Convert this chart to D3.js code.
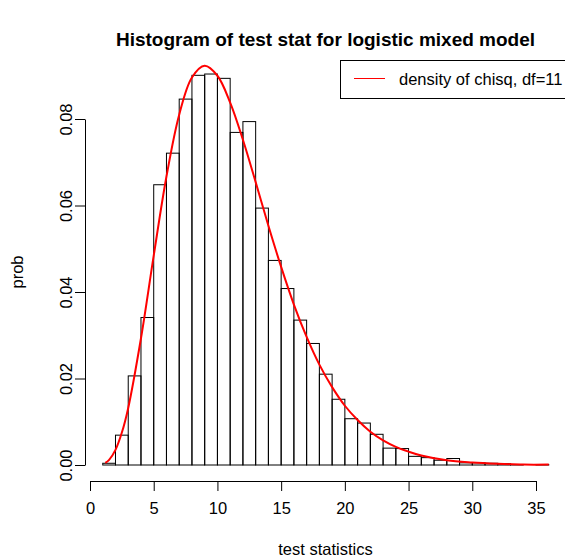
<!DOCTYPE html>
<html>
<head>
<meta charset="utf-8">
<script src="https://cdn.jsdelivr.net/npm/d3@7"></script>
<style>
  body { margin: 0; background: #fff; }
  text { font-family: "Liberation Sans", Arial, Helvetica, sans-serif; }
</style>
</head>
<body>
<div id="chart"></div>
<script>
// histogram breaks (bin edges) and bar densities
const breaks = [1, 2, 3, 4, 5, 6, 7, 8, 9, 10, 11, 12, 13, 14, 15, 16, 17, 18,
    19, 20, 21, 22, 23, 24, 25, 26, 27, 28, 29, 30, 31, 32, 33, 34, 35, 36];
const density = [0.0004, 0.0069, 0.0206, 0.0341, 0.0648, 0.0721, 0.0846, 0.0901,
    0.0904, 0.0894, 0.0769, 0.0794, 0.0594, 0.0473, 0.0408, 0.0335, 0.0281,
    0.0210, 0.0152, 0.0107, 0.0097, 0.0071, 0.0039, 0.0038, 0.0020, 0.0017,
    0.0011, 0.0015, 0.0005, 0.0005, 0.0004, 0.0003, 0.0001, 0.0000, 0.0001];

// red density curve (chisq, df=11)
const curveX = [1.2, 1.5, 2, 2.5, 3, 4, 5, 6, 7, 8, 9, 10, 11, 12, 13, 14, 15,
    16, 17, 18, 19, 20, 21, 22, 23, 24, 25, 26, 28, 30, 32, 34, 36];
const curveY = [0.0005, 0.0012, 0.0035, 0.0075, 0.0132, 0.0293, 0.0484, 0.0667,
    0.0810, 0.0896, 0.0923, 0.0900, 0.0838, 0.0752, 0.0654, 0.0553, 0.0458,
    0.0371, 0.0296, 0.0232, 0.0180, 0.0137, 0.0104, 0.0077, 0.0057, 0.0042,
    0.0031, 0.0022, 0.0011, 0.0006, 0.0003, 0.0001, 0.0001];

const xTicks = [0, 5, 10, 15, 20, 25, 30, 35];
const yTicks = [0, 0.02, 0.04, 0.06, 0.08];

const width = 565;
const height = 560;

const svg = d3.select('#chart')
    .append('svg')
    .attr('width', width)
    .attr('height', height);

const x = d3.scaleLinear().domain([0, 35]).range([90, 536]);
const y = d3.scaleLinear().domain([0, 0.08]).range([465, 119]);

// title
svg.append('text')
    .attr('x', 325.5)
    .attr('y', 46)
    .attr('text-anchor', 'middle')
    .style('font-weight', 'bold')
    .style('font-size', '19px')
    .text('Histogram of test stat for logistic mixed model');

// bars
svg.append('g')
    .selectAll('rect')
    .data(density)
    .join('rect')
    .attr('x', (d, i) => x(breaks[i]))
    .attr('y', d => y(d))
    .attr('width', (d, i) => x(breaks[i + 1]) - x(breaks[i]))
    .attr('height', d => y(0) - y(d))
    .style('fill', 'none')
    .style('stroke', '#000')
    .style('stroke-width', 1);

// density curve
const line = d3.line()
    .x(d => x(d[0]))
    .y(d => y(d[1]))
    .curve(d3.curveCatmullRom);

svg.append('path')
    .datum(curveX.map((v, i) => [v, curveY[i]]))
    .attr('d', line)
    .style('fill', 'none')
    .style('stroke', '#ff0000')
    .style('stroke-width', 2);

// x axis
const xAxis = svg.append('g')
    .attr('transform', 'translate(0,481)')
    .call(d3.axisBottom(x).tickValues(xTicks).tickSize(10).tickSizeOuter(0).tickPadding(11));
xAxis.selectAll('text').style('font-size', '16.5px').attr('fill', '#000');
xAxis.selectAll('line, path').attr('stroke', '#000');

// y axis, labels turned like R's las=0
const yAxis = svg.append('g')
    .attr('transform', 'translate(85,0)')
    .call(d3.axisLeft(y).tickValues(yTicks).tickSize(10).tickSizeOuter(0)
        .tickFormat(d3.format('.2f')));
yAxis.selectAll('text')
    .attr('x', null)
    .attr('dy', null)
    .attr('text-anchor', 'middle')
    .attr('transform', 'translate(-13,0) rotate(-90)')
    .style('font-size', '16.5px')
    .attr('fill', '#000');
yAxis.selectAll('line, path').attr('stroke', '#000');

// axis labels
svg.append('text')
    .attr('x', 325.5)
    .attr('y', 555)
    .attr('text-anchor', 'middle')
    .style('font-size', '16.5px')
    .text('test statistics');

svg.append('text')
    .attr('transform', 'translate(23,272) rotate(-90)')
    .attr('text-anchor', 'middle')
    .style('font-size', '16.5px')
    .text('prob');

// legend
const legend = svg.append('g');
legend.append('rect')
    .attr('x', 340.5)
    .attr('y', 60.5)
    .attr('width', 240)
    .attr('height', 38)
    .style('fill', 'none')
    .style('stroke', '#000');
legend.append('line')
    .attr('x1', 354).attr('x2', 385)
    .attr('y1', 78.5).attr('y2', 78.5)
    .style('stroke', '#ff0000')
    .style('stroke-width', 1);
legend.append('text')
    .attr('x', 399)
    .attr('y', 84.5)
    .style('font-size', '16.5px')
    .text('density of chisq, df=11');
</script>
</body>
</html>
